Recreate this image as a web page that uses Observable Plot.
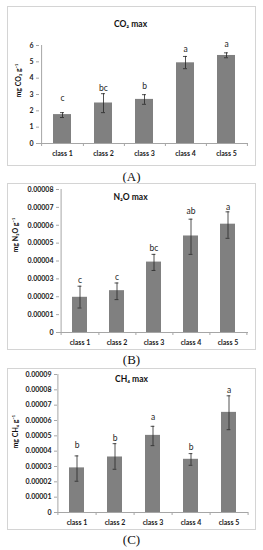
<!DOCTYPE html>
<html>
<head>
<meta charset="utf-8">
<script src="https://cdn.jsdelivr.net/npm/d3@7"></script>
<script src="https://cdn.jsdelivr.net/npm/@observablehq/plot@0.6"></script>
<style>
  html, body { margin: 0; padding: 0; background: white; }
  body { width: 263px; height: 550px; position: relative; overflow: hidden; }
  .panel { position: absolute; left: 7px; border: 1px solid #d4d4d4; background: white; }
  .panel svg { display: block; }
  .cap { position: absolute; left: 0; width: 263px; text-align: center;
         font-family: "Liberation Serif", serif; font-size: 13px; color: #111; line-height: 1; }
</style>
</head>
<body>
<div id="pA" class="panel" style="top:6px"></div>
<div class="cap" style="top:170px">(A)</div>
<div id="pB" class="panel" style="top:183px"></div>
<div class="cap" style="top:353px">(B)</div>
<div id="pC" class="panel" style="top:368px"></div>
<div class="cap" style="top:533px">(C)</div>
<script>
const classes = ["class 1", "class 2", "class 3", "class 4", "class 5"];

// CO2 max (mg CO2 g-1)
const co2Mean = [1.77, 2.48, 2.70, 4.94, 5.39];
const co2Lo = [1.59, 1.89, 2.40, 4.58, 5.25];
const co2Hi = [1.89, 3.05, 2.99, 5.33, 5.55];
const co2Letters = ["c", "bc", "b", "a", "a"];
const co2LetterAt = [2.79, 3.36, 3.50, 5.74, 6.06];
const co2Ticks = [0, 1, 2, 3, 4, 5, 6];
const co2TickLabels = ["0", "1", "2", "3", "4", "5", "6"];

// N2O max (mg N2O g-1)
const n2oMean = [1.97e-5, 2.34e-5, 3.94e-5, 5.40e-5, 6.06e-5];
const n2oLo = [1.37e-5, 1.84e-5, 3.47e-5, 4.37e-5, 5.27e-5];
const n2oHi = [2.59e-5, 2.77e-5, 4.37e-5, 6.34e-5, 6.75e-5];
const n2oLetters = ["c", "c", "bc", "ab", "a"];
const n2oLetterAt = [2.92e-5, 3.09e-5, 4.71e-5, 6.80e-5, 7.00e-5];
const n2oTicks = [0, 1e-5, 2e-5, 3e-5, 4e-5, 5e-5, 6e-5, 7e-5, 8e-5];
const n2oTickLabels = ["0", "0.00001", "0.00002", "0.00003", "0.00004", "0.00005", "0.00006", "0.00007", "0.00008"];

// CH4 max (mg CH4 g-1)
const ch4Mean = [2.91e-5, 3.62e-5, 5.03e-5, 3.47e-5, 6.53e-5];
const ch4Lo = [2.04e-5, 2.82e-5, 4.36e-5, 3.08e-5, 5.40e-5];
const ch4Hi = [3.69e-5, 4.49e-5, 5.62e-5, 3.84e-5, 7.61e-5];
const ch4Letters = ["b", "b", "a", "b", "a"];
const ch4LetterAt = [4.36e-5, 4.84e-5, 6.18e-5, 4.25e-5, 7.96e-5];
const ch4Ticks = [0, 1e-5, 2e-5, 3e-5, 4e-5, 5e-5, 6e-5, 7e-5, 8e-5, 9e-5];
const ch4TickLabels = ["0", "0.00001", "0.00002", "0.00003", "0.00004", "0.00005", "0.00006", "0.00007", "0.00008", "0.00009"];

function panel(cfg) {
  const data = classes.map((c, i) => ({
    c, v: cfg.mean[i], lo: cfg.lo[i], hi: cfg.hi[i], l: cfg.letters[i], la: cfg.letterAt[i]
  }));
  const W = cfg.width, H = cfg.height;
  const plotW = W - cfg.ml - cfg.mr;
  const plotH = H - cfg.mt - cfg.mb;
  const step = plotW / classes.length;
  const p = cfg.padding;
  const bw = step * (1 - p);
  const capW = 4;
  const capInset = (bw - capW) / 2;
  const axisColor = "#a6a6a6";
  return Plot.plot({
    width: W, height: H,
    marginLeft: cfg.ml, marginRight: cfg.mr, marginTop: cfg.mt, marginBottom: cfg.mb,
    style: { fontFamily: "Lato, 'Liberation Sans', sans-serif", fontSize: "7px", fontWeight: "bold", color: "#1a1a1a", background: "white", overflow: "visible" },
    x: { type: "band", domain: classes, paddingInner: p, paddingOuter: p / 2, label: null, axis: null },
    y: { domain: [0, cfg.ticks[cfg.ticks.length - 1]], label: null, axis: null },
    marks: [
      Plot.barY(data, { x: "c", y: "v", fill: "#808080" }),
      Plot.ruleY([0], { stroke: axisColor }),
      Plot.ruleX([classes[0]], { x: d => d, dx: -step / 2, insetBottom: -3, stroke: axisColor }),
      Plot.ruleX(classes, { x: d => d, dx: step / 2, insetTop: plotH, insetBottom: -3, stroke: axisColor }),
      Plot.axisY({ ticks: cfg.ticks, tickFormat: d => cfg.tickLabels[cfg.ticks.indexOf(d)], tickSize: 3, tickPadding: 3, stroke: axisColor, fill: "#1a1a1a", label: null }),
      Plot.axisX({ tickSize: 0, tickPadding: 8, fill: "#1a1a1a", label: null }),
      Plot.ruleX(data, { x: "c", y1: "lo", y2: "hi", stroke: "#262626", strokeWidth: 0.8 }),
      Plot.tickY(data, { x: "c", y: "hi", insetLeft: capInset, insetRight: capInset, stroke: "#262626", strokeWidth: 0.8 }),
      Plot.tickY(data, { x: "c", y: "lo", insetLeft: capInset, insetRight: capInset, stroke: "#262626", strokeWidth: 0.8 }),
      Plot.text(data, { x: "c", y: "la", text: "l", fill: "#262626", fontWeight: "normal", fontSize: 8.5 }),
      Plot.text([cfg.title], { frameAnchor: "top", dx: cfg.tdx, dy: cfg.tdy, fontSize: 8.5, fontWeight: "bold", fill: "#111" }),
      Plot.text([cfg.ylabel], { frameAnchor: "left", rotate: -90, dx: cfg.ldx, dy: cfg.ldy, fontSize: 7, fontWeight: "bold", fill: "#111" })
    ]
  });
}

document.getElementById("pA").appendChild(panel({
  width: 247, height: 158, ml: 31, mr: 7, mt: 38, mb: 22, padding: 0.57,
  mean: co2Mean, lo: co2Lo, hi: co2Hi, letters: co2Letters, letterAt: co2LetterAt,
  ticks: co2Ticks, tickLabels: co2TickLabels,
  title: "CO₂ max", tdx: -13.5, tdy: -25,
  ylabel: "mg CO₂ g⁻¹", ldx: -21, ldy: 3
}));
document.getElementById("pB").appendChild(panel({
  width: 247, height: 165, ml: 51, mr: 7, mt: 5, mb: 17, padding: 0.6,
  mean: n2oMean, lo: n2oLo, hi: n2oHi, letters: n2oLetters, letterAt: n2oLetterAt,
  ticks: n2oTicks, tickLabels: n2oTickLabels,
  title: "N₂O max", tdx: -23.5, tdy: 4,
  ylabel: "mg N₂O g⁻¹", ldx: -44, ldy: -8.5
}));
document.getElementById("pC").appendChild(panel({
  width: 247, height: 160, ml: 49, mr: 7, mt: 5, mb: 17, padding: 0.6,
  mean: ch4Mean, lo: ch4Lo, hi: ch4Hi, letters: ch4Letters, letterAt: ch4LetterAt,
  ticks: ch4Ticks, tickLabels: ch4TickLabels,
  title: "CH₄ max", tdx: -21.5, tdy: 1,
  ylabel: "mg CH₄ g⁻¹", ldx: -42, ldy: 5
}));
</script>
</body>
</html>
